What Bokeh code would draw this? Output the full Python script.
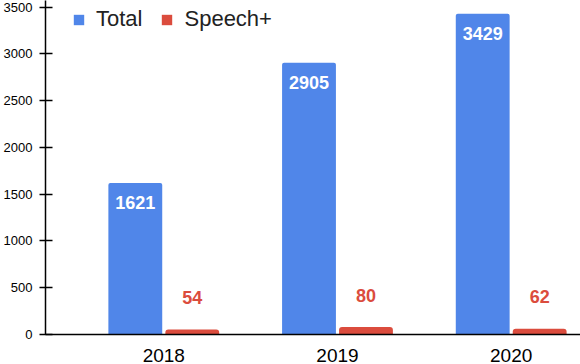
from bokeh.plotting import figure
from bokeh.models import ColumnDataSource, Range1d, FixedTicker, Legend, LegendItem
from bokeh.embed import file_html
from bokeh.resources import INLINE
from bokeh.core.properties import value

years = ["2018", "2019", "2020"]
total = [1621, 2905, 3429]
speech = [54, 80, 62]
y_ticks = [0, 500, 1000, 1500, 2000, 2500, 3000, 3500]

BLUE = "#5086E9"
RED = "#DB4C3D"
FONT = "Liberation Sans"

idx = list(range(len(years)))
src = ColumnDataSource(dict(
    xb=[i - 0.164 for i in idx], xr=[i + 0.164 for i in idx],
    total=total, speech=speech,
    tl=[str(v) for v in total], sl=[str(v) for v in speech],
))

p = figure(width=580, height=364, output_backend="svg", toolbar_location=None,
           x_range=Range1d(-0.681, 2.399), y_range=Range1d(0, 3572),
           min_border_left=44, min_border_right=0, min_border_top=0, min_border_bottom=0)
p.outline_line_color = None
p.xgrid.visible = False
p.ygrid.visible = False
p.background_fill_color = "white"
p.border_fill_color = "white"

rb = p.vbar(x="xb", top="total", width=0.31, source=src, fill_color=BLUE, line_color=None,
            border_radius=(2, 2, 0, 0))
rr = p.vbar(x="xr", top="speech", width=0.31, source=src, fill_color=RED, line_color=None,
            border_radius=(3, 3, 0, 0))

p.text(x="xb", y="total", text="tl", source=src, text_color="white",
       text_font=value(FONT), text_font_style="bold", text_font_size="18px",
       text_align="center", text_baseline="alphabetic", y_offset=20)
p.text(x="xr", y="speech", text="sl", source=src, text_color=RED,
       text_font=value(FONT), text_font_style="bold", text_font_size="18px",
       text_align="center", text_baseline="alphabetic", y_offset=-32)

# x axis
xa = p.xaxis[0]
xa.ticker = FixedTicker(ticks=idx)
xa.major_label_overrides = {i: y for i, y in zip(idx, years)}
xa.major_tick_out = 0
xa.major_tick_in = 0
xa.minor_tick_out = 0
xa.minor_tick_in = 0
xa.axis_line_color = "black"
xa.axis_line_width = 1.5
xa.major_label_text_font = FONT
xa.major_label_text_font_size = "19px"
xa.major_label_text_color = "black"
xa.major_label_standoff = 14

ya = p.yaxis[0]
ya.ticker = FixedTicker(ticks=y_ticks)
ya.major_tick_out = 6
ya.major_tick_in = 7
ya.minor_tick_out = 0
ya.minor_tick_in = 0
ya.axis_line_color = "black"
ya.axis_line_width = 1.5
ya.major_tick_line_width = 1.5
ya.major_label_text_font = FONT
ya.major_label_text_font_size = "13px"
ya.major_label_text_color = "black"
ya.major_label_standoff = 7

legend = Legend(items=[LegendItem(label="Total", renderers=[rb]),
                       LegendItem(label="Speech+", renderers=[rr])],
                orientation="horizontal", location=(27, 302),
                border_line_color=None, background_fill_alpha=0,
                label_text_font=FONT, label_text_font_size="22px", label_text_color="#222222",
                glyph_width=13, glyph_height=13, label_standoff=11, spacing=18,
                padding=0, margin=0)
p.add_layout(legend, "center")

open("out.html", "w").write(file_html(p, INLINE))
